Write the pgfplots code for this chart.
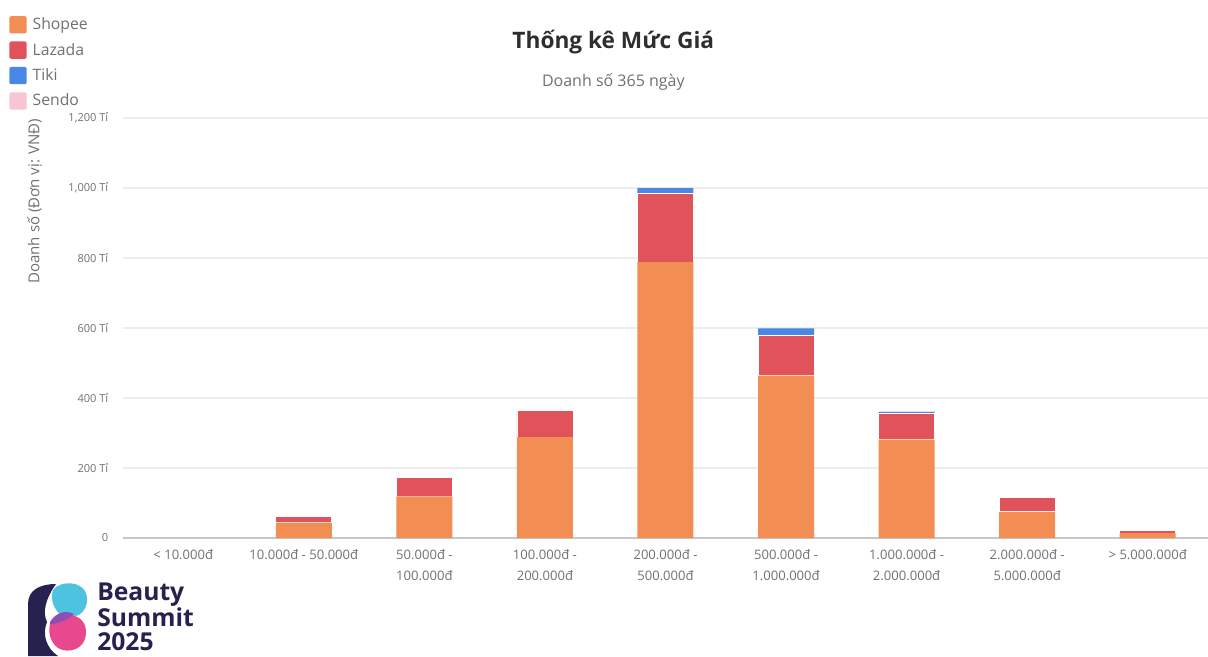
\documentclass[border=0pt]{standalone}
\usepackage{fontspec}
\setmainfont{Open Sans}
\usepackage{pgfplots}
\pgfplotsset{compat=1.18}
\usepackage{pgfplotstable}

\definecolor{shopee}{HTML}{F28E53}
\definecolor{lazada}{HTML}{E0535B}
\definecolor{tiki}{HTML}{4A88E6}
\definecolor{sendo}{HTML}{F8C6D3}
\definecolor{txtgray}{HTML}{707070}
\definecolor{navy}{HTML}{272150}
\definecolor{logocyan}{HTML}{4EC3E0}
\definecolor{logopink}{HTML}{E8498E}
\definecolor{logopurple}{HTML}{8E4FB3}

% doanh so theo muc gia (ti VND); < 10.000d ~ 0
\pgfplotstableread{
x shopee lazada tiki sendo
1 44  18  0  0
2 119 55  0  0
3 288 76  0  0
4 788 197 15 1
5 464 115 20 1
6 281 74  5  2
7 75  40  0  0
8 14  7   0  0
}\giadata

\begin{document}
\begin{tikzpicture}
\useasboundingbox (0,0) rectangle (906pt,-492.75pt);

% title
\node[font=\bfseries\fontsize{17}{20}\selectfont, text=black!82] at (460pt,-31.5pt) {Thống kê Mức Giá};
\node[font=\fontsize{12}{14}\selectfont, text=txtgray] at (460pt,-61.5pt) {Doanh số 365 ngày};
\node[font=\fontsize{11.3}{13}\selectfont, text=txtgray, rotate=90] at (26pt,-151pt) {Doanh số (Đơn vị: VNĐ)};

\begin{axis}[
    at={(92.25pt,-403.5pt)}, anchor=south west,
    scale only axis, width=813.75pt, height=315pt,
    ybar stacked, bar width=42pt,
    xmin=-0.5, xmax=8.5, ymin=0, ymax=1200,
    xtick={0,...,8},
    xticklabels={{< 10.000đ},{10.000đ - 50.000đ},{50.000đ -\\100.000đ},{100.000đ -\\200.000đ},{200.000đ -\\500.000đ},{500.000đ -\\1.000.000đ},{1.000.000đ -\\2.000.000đ},{2.000.000đ -\\5.000.000đ},{> 5.000.000đ}},
    xticklabel style={align=center, font=\fontsize{9.8}{16}\selectfont, text=txtgray, yshift=-5pt},
    ytick={0,200,...,1200},
    yticklabels={0,200 Tỉ,400 Tỉ,600 Tỉ,800 Tỉ,{1,000 Tỉ},{1,200 Tỉ}},
    yticklabel style={font=\fontsize{8.3}{10}\selectfont, text=txtgray, xshift=-7.5pt},
    major tick length=0pt,
    ymajorgrids, grid style={draw=black!7, line width=0.8pt},
    axis x line*=bottom, axis y line*=left,
    x axis line style={draw=none},
    y axis line style={draw=none},
    legend style={at={(-0.105,1.252)}, anchor=north west, draw=none, fill=none,
        font=\fontsize{11.8}{13}\selectfont, text=txtgray, row sep=4.6pt,
        legend cell align=left, inner xsep=0pt,
        nodes={inner xsep=4.5pt}},
    legend image code/.code={\fill[#1, draw=none, rounded corners=1.5pt] (0pt,-6.5pt) rectangle (13pt,6.5pt);},
]
\addplot[fill=shopee, draw=none] table[x=x, y=shopee] {\giadata};
\addplot[fill=lazada, draw=white, line width=0.6pt] table[x=x, y=lazada] {\giadata};
\addplot[fill=tiki, draw=none] table[x=x, y=tiki] {\giadata};
\addplot[fill=sendo, draw=none] table[x=x, y=sendo] {\giadata};
\legend{Shopee, Lazada, Tiki, Sendo}
% baseline over the bars
\draw[black!22, line width=0.8pt] (axis cs:-0.5,0) -- (axis cs:8.5,0);
\end{axis}

% logo Beauty Summit 2025
\begin{scope}[x=0.75pt, y=-0.75pt]
  \fill[logocyan] (53,590) .. controls (60,580) and (86,580) .. (87,598) .. controls (88,614) and (74,620) .. (62,616) .. controls (54,610) and (50,600) .. (53,590) -- cycle;
  \fill[logopink] (50,624) .. controls (60,610) and (86,612) .. (86,632) .. controls (86,650) and (68,654) .. (58,648) .. controls (50,642) and (48,632) .. (50,624) -- cycle;
  \fill[logopurple] (50,622) .. controls (56,612) and (66,610) .. (74,614) .. controls (68,620) and (58,624) .. (50,624) -- cycle;
  \fill[navy] (28,656) -- (28,604) .. controls (28,590) and (40,584) .. (56,584) .. controls (46,598) and (42,612) .. (47,622) .. controls (42,634) and (46,648) .. (58,656) -- cycle;
  \node[anchor=north west, align=left, text=navy, font=\bfseries\fontsize{18.5}{18}\selectfont, inner sep=0pt] at (97,583) {Beauty\\Summit\\2025};
\end{scope}
\end{tikzpicture}
\end{document}
